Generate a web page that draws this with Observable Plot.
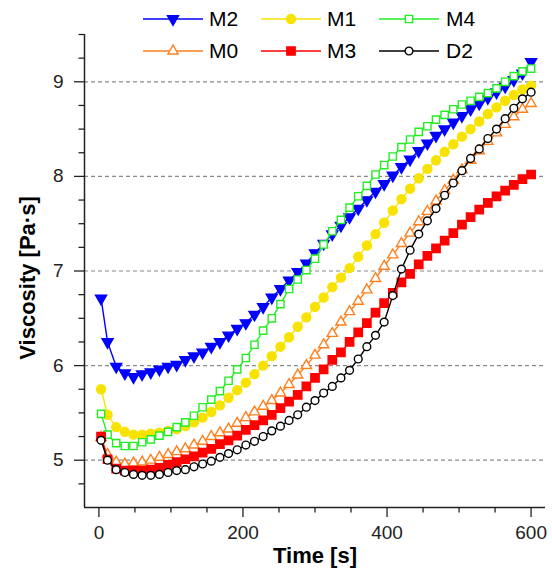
<!DOCTYPE html>
<html><head><meta charset="utf-8">
<script src="https://cdn.jsdelivr.net/npm/d3@7"></script>
<script src="https://cdn.jsdelivr.net/npm/@observablehq/plot@0.6"></script>
<style>
body{margin:0;background:#fff;}
#wrap{position:relative;width:552px;height:571px;font-family:"Liberation Sans",Arial,sans-serif;}
#wrap svg{position:absolute;left:0;top:0;}
g[aria-label="y-axis label"] text, g[aria-label="x-axis label"] text{font-weight:bold;font-size:22px;fill:#000;}
</style></head><body><div id="wrap"></div>
<script>
const time = [3,12,24,36,48,60,72,84,96,108,120,132,144,156,168,180,192,204,216,228,240,252,264,276,288,300,312,324,336,348,360,372,384,396,408,420,432,444,456,468,480,492,504,516,528,540,552,564,576,588,600];
const seriesNames = ["M2","M1","M4","M0","M3","D2"];
const m2 = [6.71,6.25,5.99,5.92,5.88,5.91,5.93,5.96,5.99,6.01, 6.06,6.10,6.14,6.20,6.25,6.32,6.39,6.45,6.54,6.62, 6.72,6.81,6.90,6.99,7.08,7.19,7.29,7.39,7.48,7.57, 7.66,7.75,7.84,7.92,8.01,8.10,8.18,8.27,8.35,8.43, 8.50,8.57,8.64,8.71,8.77,8.83,8.89,8.95,9.02,9.09, 9.21];
const m1 = [5.75,5.48,5.35,5.30,5.27,5.27,5.28,5.29,5.31,5.33, 5.36,5.40,5.45,5.51,5.58,5.66,5.74,5.82,5.91,6.00, 6.10,6.20,6.30,6.41,6.51,6.62,6.72,6.83,6.93,7.03, 7.15,7.27,7.39,7.51,7.64,7.76,7.87,7.98,8.08,8.17, 8.26,8.34,8.42,8.50,8.58,8.66,8.73,8.80,8.86,8.92, 8.96];
const m4 = [5.49,5.27,5.18,5.15,5.15,5.19,5.22,5.26,5.30,5.35, 5.40,5.47,5.56,5.64,5.73,5.84,5.96,6.08,6.22,6.37, 6.50,6.65,6.81,6.91,7.01,7.13,7.28,7.42,7.54,7.67, 7.79,7.90,8.02,8.12,8.21,8.31,8.39,8.47,8.53,8.60, 8.65,8.71,8.76,8.80,8.84,8.88,8.93,9.00,9.06,9.11, 9.14];
const m0 = [5.24,5.06,4.98,4.96,4.97,4.98,5.00,5.03,5.06,5.09, 5.12,5.16,5.20,5.25,5.29,5.33,5.39,5.45,5.51,5.57, 5.63,5.71,5.80,5.90,6.00,6.11,6.22,6.34,6.46,6.57, 6.68,6.80,6.92,7.05,7.17,7.29,7.40,7.52,7.63,7.74, 7.85,7.96,8.07,8.17,8.27,8.37,8.46,8.55,8.63,8.71, 8.77];
const m3 = [5.25,5.01,4.91,4.89,4.89,4.89,4.90,4.92,4.95,4.98, 5.01,5.04,5.08,5.12,5.17,5.21,5.26,5.32,5.37,5.42, 5.48,5.55,5.62,5.69,5.78,5.87,5.96,6.06,6.14,6.25, 6.35,6.45,6.56,6.66,6.77,6.88,6.97,7.07,7.16,7.24, 7.32,7.40,7.49,7.57,7.65,7.72,7.79,7.85,7.91,7.97, 8.02];
const d2 = [5.21,5.00,4.90,4.87,4.85,4.84,4.84,4.85,4.87,4.89, 4.90,4.93,4.96,4.99,5.03,5.07,5.11,5.16,5.20,5.25, 5.31,5.36,5.42,5.48,5.56,5.63,5.71,5.78,5.87,5.95, 6.07,6.20,6.32,6.46,6.74,7.02,7.22,7.39,7.53,7.66, 7.80,7.93,8.06,8.19,8.29,8.40,8.50,8.61,8.72,8.82, 8.89];
const xMajor = [0,200,400,600];
const xMinor = [50,100,150,250,300,350,450,500,550];
const yMajor = [5,6,7,8,9];
const yMinor = [4.75,5.25,5.5,5.75,6.25,6.5,6.75,7.25,7.5,7.75,8.25,8.5,8.75,9.25,9.5];

const triangleDown = {draw(ctx, size){const y = -Math.sqrt(size/(Math.sqrt(3)*3)); ctx.moveTo(0,-y*2); ctx.lineTo(-Math.sqrt(3)*y, y); ctx.lineTo(Math.sqrt(3)*y, y); ctx.closePath();}};
const styles = {
  M2:{values:m2, color:"#0000ff", symbol:triangleDown, r:4.1, fill:"#0000ff"},
  M1:{values:m1, color:"#f8e300", symbol:"circle", r:4.5, fill:"#f8e300"},
  M4:{values:m4, color:"#22ee22", symbol:"square", r:4.1, fill:"#ffffff"},
  M0:{values:m0, color:"#ff7f1e", symbol:"triangle", r:3.8, fill:"#ffffff"},
  M3:{values:m3, color:"#ff0000", symbol:"square", r:4.7, fill:"#ff0000"},
  D2:{values:d2, color:"#000000", symbol:"circle", r:3.9, fill:"#ffffff"}
};
const rows = seriesNames.flatMap(s => time.map((t,i) => ({series:s, t, v:styles[s].values[i]})));

const marks = [
  Plot.ruleY(yMajor, {stroke:"#8a8a8a", strokeDasharray:"4,3", strokeWidth:1.2}),
];
for (const s of seriesNames) {
  const st = styles[s];
  const d = rows.filter(r => r.series === s);
  marks.push(Plot.line(d, {x:"t", y:"v", stroke:st.color, strokeWidth:1.4}));
  marks.push(Plot.dot(d, {x:"t", y:"v", symbol:st.symbol, r:st.r, fill:st.fill, stroke:st.color, strokeWidth:1.4}));
}
marks.push(
  Plot.axisY({ticks:yMinor, tickSize:5.5, text:null, label:null, strokeWidth:1.3}),
  Plot.axisY({ticks:yMajor, tickSize:10, tickPadding:11, fontSize:19, tickFormat:d3.format("d"), label:"Viscosity [Pa·s]", labelAnchor:"center", labelOffset:65, labelArrow:"none", strokeWidth:1.3}),
  Plot.axisX({ticks:xMinor, tickSize:5.5, text:null, label:null, strokeWidth:1.3}),
  Plot.axisX({ticks:xMajor, tickSize:10, tickPadding:8, fontSize:19, tickFormat:d3.format("d"), label:"Time [s]", labelAnchor:"center", labelOffset:55, labelArrow:"none", strokeWidth:1.3}),
  Plot.ruleX([-20], {stroke:"#222", strokeWidth:1.5}),
  Plot.ruleY([4.5], {stroke:"#222", strokeWidth:1.5})
);

const chart = Plot.plot({
  width:552, height:571,
  marginTop:34, marginBottom:64, marginLeft:84, marginRight:7,
  x:{domain:[-20,620]},
  y:{domain:[4.5,9.5]},
  style:{fontFamily:"Liberation Sans, Arial, sans-serif", color:"#222", background:"transparent"},
  marks
});
const wrap = document.getElementById("wrap");
wrap.appendChild(chart);
const ylab = chart.querySelector('g[aria-label="y-axis label"]');
if (ylab) ylab.setAttribute("transform", "translate(0,7) " + (ylab.getAttribute("transform") || ""));

// legend
const legendRows = [["M2","M1","M4"],["M0","M3","D2"]];
const colX = [143, 261, 379];
const textX = [209, 327, 446];
const rowY = [19, 51];
const lg = d3.select(wrap).append("svg").attr("width",552).attr("height",70).style("pointer-events","none");
legendRows.forEach((row, ri) => row.forEach((s, ci) => {
  const st = styles[s];
  const g = lg.append("g");
  g.append("line").attr("x1", colX[ci]).attr("x2", colX[ci]+60).attr("y1", rowY[ri]).attr("y2", rowY[ri]).attr("stroke", st.color).attr("stroke-width",1.4);
  const symType = st.symbol === triangleDown ? triangleDown : st.symbol === "circle" ? d3.symbolCircle : st.symbol === "square" ? d3.symbolSquare : d3.symbolTriangle;
  const size = Math.PI*st.r*st.r;
  g.append("path").attr("d", d3.symbol(symType, size)()).attr("transform", `translate(${colX[ci]+30},${rowY[ri]})`).attr("fill", st.fill).attr("stroke", st.color).attr("stroke-width",1.4);
  g.append("text").attr("x", textX[ci]).attr("y", rowY[ri]+7.3).attr("font-size",21).attr("font-family","Liberation Sans, Arial, sans-serif").attr("fill","#000").text(s);
}));
</script></body></html>
